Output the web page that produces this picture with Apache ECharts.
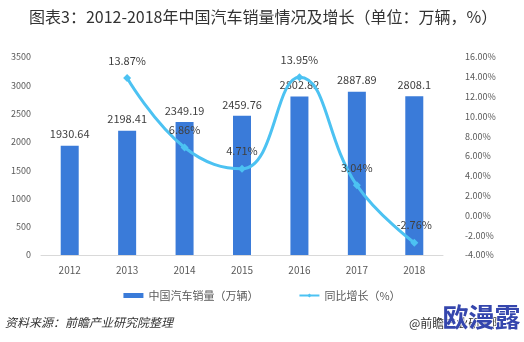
<!DOCTYPE html>
<html><head><meta charset="utf-8">
<script src="https://cdn.jsdelivr.net/npm/echarts@6/dist/echarts.min.js"></script>
<style>html,body{margin:0;padding:0;background:#fff}#c{width:524px;height:342px}</style>
</head><body><div id="c"></div>
<script>
const years = ['2012','2013','2014','2015','2016','2017','2018'];
const sales = [1930.64, 2198.41, 2349.19, 2459.76, 2802.82, 2887.89, 2808.1];
const growth = [null, 13.87, 6.86, 4.71, 13.95, 3.04, -2.76];
const leftTicks = {min: 0, max: 3500, interval: 500};
const rightTicks = {min: -4, max: 16, interval: 2};

const chart = echarts.init(document.getElementById('c'));
const font = '"Microsoft YaHei","Noto Sans CJK SC",sans-serif';
chart.setOption({
  animation: false,
  textStyle: {fontFamily: font},
  title: {
    text: '图表3：2012-2018年中国汽车销量情况及增长（单位：万辆，%）',
    left: 24, top: 4,
    textStyle: {fontSize: 16, fontWeight: 'normal', color: '#333', fontFamily: font}
  },
  grid: {left: 41, right: 81, top: 57, bottom: 87},
  legend: {
    bottom: 36, left: 'center', itemGap: 40, itemWidth: 20, itemHeight: 5,
    textStyle: {fontSize: 11, color: '#595959'},
    data: [{name: '中国汽车销量（万辆）', icon: 'rect'}, {name: '同比增长（%）'}]
  },
  xAxis: {
    type: 'category', data: years,
    axisLine: {lineStyle: {color: '#d9d9d9'}},
    axisTick: {show: false},
    axisLabel: {color: '#595959', fontSize: 10, margin: 10}
  },
  yAxis: [
    {type: 'value', min: leftTicks.min, max: leftTicks.max, interval: leftTicks.interval,
     splitLine: {show: false}, axisLine: {show: false}, axisTick: {show: false},
     axisLabel: {color: '#595959', fontSize: 9, margin: 10, formatter: v => String(v)}},
    {type: 'value', min: rightTicks.min, max: rightTicks.max, interval: rightTicks.interval,
     splitLine: {show: false}, axisLine: {show: false}, axisTick: {show: false},
     axisLabel: {color: '#595959', fontSize: 9, margin: 22, formatter: v => v.toFixed(2) + '%'}}
  ],
  series: [
    {name: '中国汽车销量（万辆）', type: 'bar', data: sales, barWidth: 18,
     itemStyle: {color: '#3a7bd9'},
     label: {show: true, position: 'top', color: '#404040', fontSize: 11, distance: 6}},
    {name: '同比增长（%）', type: 'line', yAxisIndex: 1, data: growth, smooth: 0.45,
     symbol: 'diamond', symbolSize: 8, connectNulls: false,
     lineStyle: {color: '#4cc2f2', width: 3},
     itemStyle: {color: '#4cc2f2'},
     label: {show: true, position: 'top', color: '#404040', fontSize: 11, distance: 8,
             formatter: p => p.value.toFixed(2) + '%'}}
  ],
  graphic: [
    {type: 'text', left: 5, top: 316,
     style: {text: '资料来源：前瞻产业研究院整理', fill: '#333', font: 'italic 12px ' + font}},
    {type: 'text', left: 409, top: 317,
     style: {text: '@前瞻产业研究院', fill: '#333', font: '12px ' + font}},
    {type: 'text', left: 442, top: 304,
     style: {text: '欧漫露', fill: '#3546ad', font: 'bold 26px ' + font, stroke: '#fff', lineWidth: 1}}
  ]
});
</script></body></html>
